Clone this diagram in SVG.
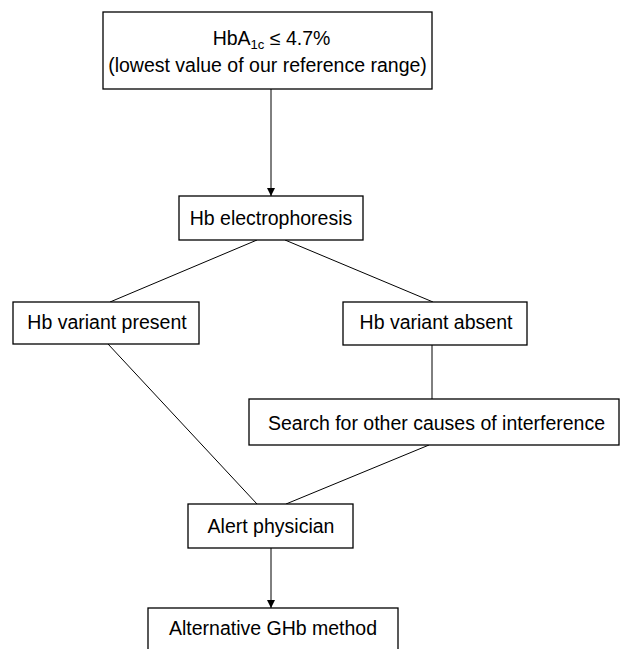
<svg xmlns="http://www.w3.org/2000/svg" width="620" height="649" viewBox="0 0 620 649">
<style>
.box{fill:#fff;stroke:#000;stroke-width:1.3}
.t{font-family:"Liberation Sans",Arial,sans-serif;font-size:19.5px;fill:#000;text-anchor:middle}
.c{stroke:#000;stroke-width:1;fill:none}
</style>
<defs>
<marker id="ah" viewBox="0 0 8 12" refX="8" refY="6" markerWidth="8" markerHeight="12" markerUnits="userSpaceOnUse" orient="auto">
<path d="M0,2 L8,6 L0,10 Z" fill="#000"/>
</marker>
</defs>
<rect width="620" height="649" fill="#fff"/>
<g id="connectors">
<line class="c" x1="271" y1="89" x2="271" y2="196" marker-end="url(#ah)"/>
<line class="c" x1="257" y1="240" x2="110" y2="302"/>
<line class="c" x1="285" y1="240" x2="433" y2="302"/>
<line class="c" x1="108" y1="344" x2="257" y2="504"/>
<line class="c" x1="432" y1="345" x2="432" y2="399"/>
<line class="c" x1="429" y1="445" x2="286" y2="504"/>
<line class="c" x1="271" y1="548" x2="271" y2="608" marker-end="url(#ah)"/>
</g>
<g id="n1">
<rect class="box" x="103" y="12" width="329" height="77"/>
<text class="t" x="271.5" y="45">HbA<tspan font-size="13" dy="4">1c</tspan><tspan dy="-4"> ≤ 4.7%</tspan></text>
<text class="t" x="267.5" y="72">(lowest value of our reference range)</text>
</g>
<g id="n2">
<rect class="box" x="179" y="196" width="184" height="44"/>
<text class="t" x="271" y="225">Hb electrophoresis</text>
</g>
<g id="n3">
<rect class="box" x="13" y="302" width="186" height="42"/>
<text class="t" x="107" y="329">Hb variant present</text>
</g>
<g id="n4">
<rect class="box" x="343" y="302" width="184" height="43"/>
<text class="t" x="436" y="329">Hb variant absent</text>
</g>
<g id="n5">
<rect class="box" x="249" y="399" width="370" height="46"/>
<text class="t" x="436.5" y="430">Search for other causes of interference</text>
</g>
<g id="n6">
<rect class="box" x="188" y="504" width="165" height="44"/>
<text class="t" x="271" y="533">Alert physician</text>
</g>
<g id="n7">
<rect class="box" x="148" y="608" width="250" height="50"/>
<text class="t" x="273" y="635">Alternative GHb method</text>
</g>
</svg>
